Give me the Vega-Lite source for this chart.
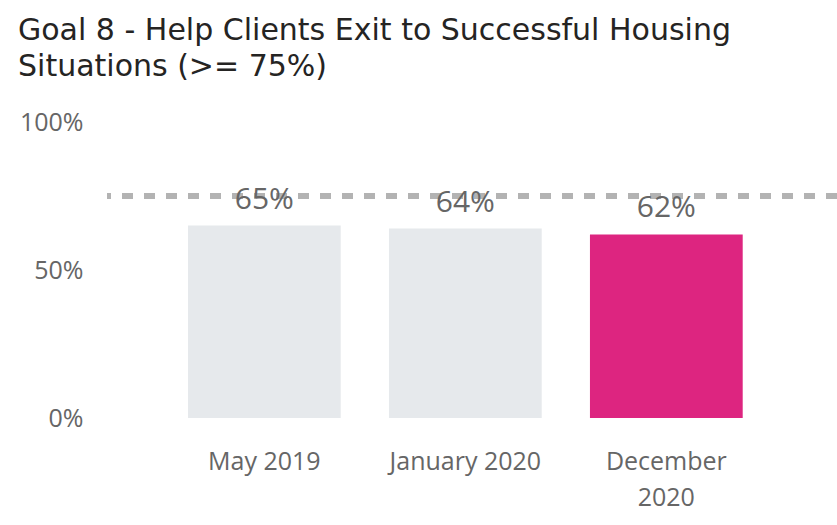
{
  "$schema": "https://vega.github.io/schema/vega-lite/v6.json",
  "autosize": {"type": "none"},
  "width": 730,
  "height": 296,
  "padding": {"left": 107, "top": 122, "right": 0, "bottom": 107},
  "background": "white",
  "config": {"view": {"stroke": null}},
  "title": {
    "text": ["Goal 8 - Help Clients Exit to Successful Housing", "Situations (>= 75%)"],
    "anchor": "start",
    "frame": "group",
    "dx": -89,
    "font": "DejaVu Sans",
    "fontSize": 30,
    "fontWeight": "normal",
    "color": "#252423",
    "lineHeight": 36,
    "offset": 28
  },
  "data": {
    "values": [
      {"period": "May 2019", "value": 0.65, "current": "no"},
      {"period": "January 2020", "value": 0.64, "current": "no"},
      {"period": "December 2020", "value": 0.62, "current": "yes"}
    ]
  },
  "encoding": {
    "x": {
      "field": "period",
      "type": "nominal",
      "sort": null,
      "scale": {"paddingInner": 0.24, "paddingOuter": 0.436, "align": 0.462},
      "axis": {
        "title": null,
        "domain": false,
        "ticks": false,
        "labelAngle": 0,
        "labelFont": "Open Sans",
        "labelFontSize": 25,
        "labelColor": "#666666",
        "labelPadding": 31,
        "labelLineHeight": 36,
        "labelExpr": "datum.label == 'December 2020' ? ['December', '2020'] : datum.label"
      }
    }
  },
  "layer": [
    {
      "mark": {"type": "bar"},
      "encoding": {
        "y": {
          "field": "value",
          "type": "quantitative",
          "scale": {"domain": [0, 1]},
          "axis": {
            "title": null,
            "domain": false,
            "ticks": false,
            "grid": false,
            "values": [0, 0.5, 1],
            "format": ".0%",
            "labelFont": "Open Sans",
            "labelFontSize": 25,
            "labelColor": "#666666",
            "labelPadding": 24
          }
        },
        "color": {
          "field": "current",
          "type": "nominal",
          "scale": {"domain": ["no", "yes"], "range": ["#E6E9EC", "#DD2580"]},
          "legend": null
        }
      }
    },
    {
      "mark": {"type": "rule", "color": "#B3B3B3", "strokeWidth": 6, "strokeDash": [11, 11]},
      "encoding": {
        "y": {"datum": 0.75, "type": "quantitative"},
        "x": null
      }
    },
    {
      "mark": {"type": "text", "font": "Open Sans", "fontSize": 30, "color": "#666666", "baseline": "alphabetic", "dy": -17},
      "encoding": {
        "y": {"field": "value", "type": "quantitative"},
        "text": {"field": "value", "type": "quantitative", "format": ".0%"}
      }
    }
  ]
}
